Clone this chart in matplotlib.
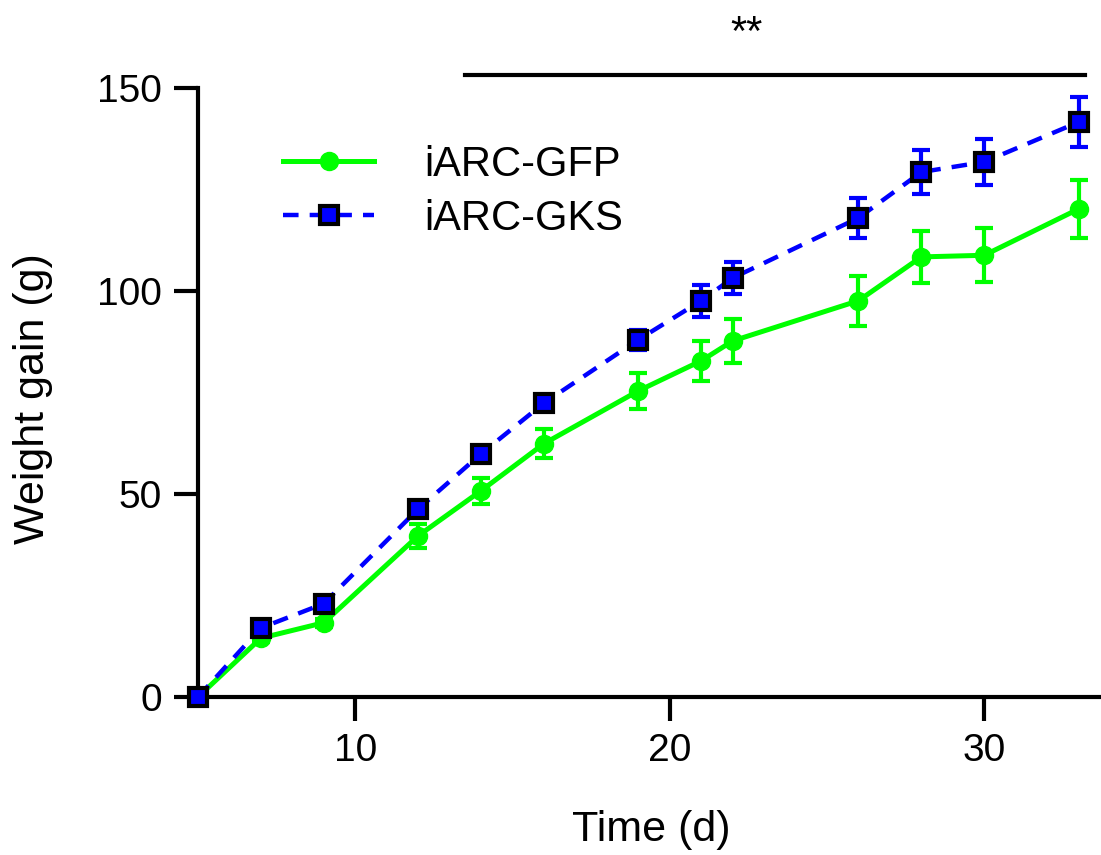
import matplotlib
matplotlib.use("Agg")
import matplotlib.pyplot as plt

plt.rcParams['font.family'] = ['Liberation Sans', 'DejaVu Sans']

days = [5, 7, 9, 12, 14, 16, 19, 21, 22, 26, 28, 30, 33]
gfp_mean = [0, 14.5, 18.3, 39.7, 50.8, 62.4, 75.4, 82.8, 87.7, 97.6, 108.4, 108.8, 120.2]
gfp_err = [0, 1.0, 1.0, 3.0, 3.2, 3.6, 4.5, 5.0, 5.4, 6.2, 6.4, 6.6, 7.1]
gks_mean = [0, 17.0, 23.0, 46.3, 59.9, 72.4, 88.0, 97.6, 103.2, 118.0, 129.3, 131.8, 141.6]
gks_err = [0, 0.8, 1.0, 1.5, 2.0, 2.0, 2.5, 4.0, 4.0, 5.0, 5.4, 5.7, 6.1]
labels = ["iARC-GFP", "iARC-GKS"]
xticks = [10, 20, 30]
yticks = [0, 50, 100, 150]
sig_span = [13.5, 33.2]
sig_text = "**"

fig = plt.figure(figsize=(11.01, 8.55), dpi=100)
ax = fig.add_axes([198/1101, 1 - 697/855, 902/1101, 609/855])

green = '#00ff00'
blue = '#0000ff'

eb1 = ax.errorbar(days, gfp_mean, yerr=gfp_err, color=green, lw=3.6, marker='o',
                  markersize=13, markerfacecolor=green, markeredgecolor=green,
                  elinewidth=3, capsize=6.5, capthick=3, label=labels[0],
                  clip_on=False, zorder=3)
eb2 = ax.errorbar(days, gks_mean, yerr=gks_err, color=blue, lw=3.2, ls=(0, (3.5, 2.5)),
                  marker='s', markersize=13.5, markerfacecolor=blue, markeredgecolor='black',
                  markeredgewidth=3, elinewidth=3, capsize=6.5, capthick=3,
                  label=labels[1], clip_on=False, zorder=4)

ax.set_xlim(5, 33.68)
ax.set_ylim(0, 150)
ax.set_xticks(xticks)
ax.set_yticks(yticks)

for s in ['top', 'right']:
    ax.spines[s].set_visible(False)
for s in ['left', 'bottom']:
    ax.spines[s].set_linewidth(3)
ax.tick_params(axis='both', width=3, length=17, labelsize=28, color='black')
ax.tick_params(axis='y', pad=9)
ax.tick_params(axis='x', pad=9)

ax.set_xlabel("Time (d)", fontsize=31)
ax.set_ylabel("Weight gain (g)", fontsize=31)
ax.xaxis.set_label_coords(0.503, -0.185)
ax.yaxis.set_label_coords(-0.161, 0.49)

ax.plot(sig_span, [153.2, 153.2], color='black', lw=3, clip_on=False)
ax.text(sum(sig_span) / 2 - 0.9, 160.6, sig_text, fontsize=30, ha='center',
        va='baseline')

leg = ax.legend(handles=[eb1.lines[0], eb2.lines[0]], labels=labels,
                loc='upper left', bbox_to_anchor=(0.094, 0.907), frameon=False,
                fontsize=30, handlelength=2.2, handletextpad=1.2,
                labelspacing=0.34, borderpad=0, borderaxespad=0)

fig.savefig("out.png", dpi=100)
